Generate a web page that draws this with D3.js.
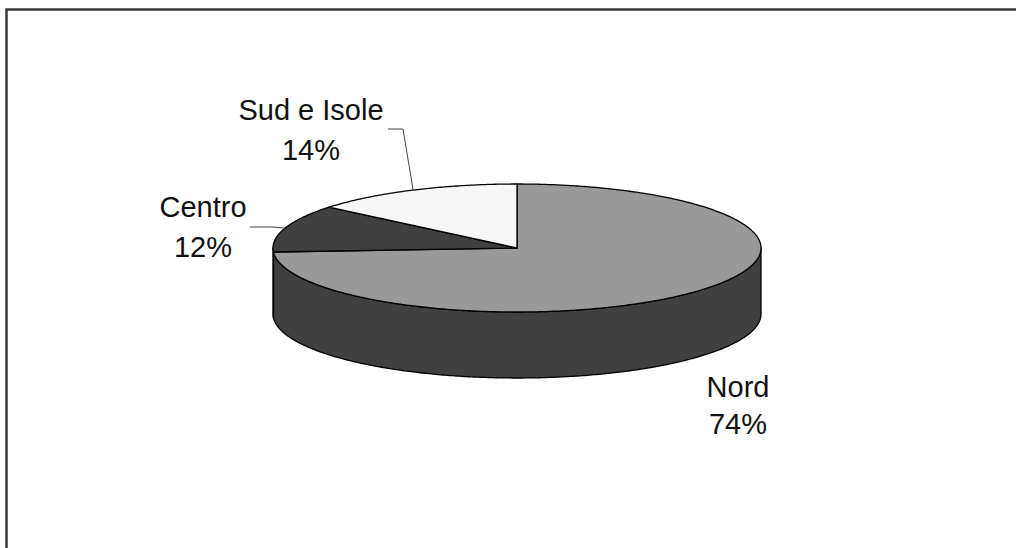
<!DOCTYPE html>
<html>
<head>
<meta charset="utf-8">
<script src="https://cdn.jsdelivr.net/npm/d3@7"></script>
<style>
  html, body { margin: 0; padding: 0; background: #fff; overflow: hidden; }
  svg { display: block; }
  text { font-family: "Liberation Sans", Arial, sans-serif; fill: #111; }
</style>
</head>
<body>
<svg id="chart" width="1016" height="548"></svg>
<script>
const width = 1016;
const height = 548;

// data
const categories = ["Nord", "Centro", "Sud e Isole"];
const values = [74, 12, 14];
const labels = ["74%", "12%", "14%"];

// look
const topColors = ["#999999", "#404040", "#f7f7f7"];
const sideColors = ["#404040", "#2b2b2b", "#bdbdbd"];

// ellipse geometry of the tilted pie
const pie3d = { cx: 517, cy: 248, rx: 244, ry: 64, depth: 66 };

// label placement (text centre x, first baseline y), leader elbow
const labelLayout = [
  { x: 738, y: 397, leader: null },
  { x: 203, y: 217, leader: { x0: 250, y0: 227, x1: 273, y1: 227 } },
  { x: 311, y: 120, leader: { x0: 388, y0: 129, x1: 403, y1: 129 } },
];

const svg = d3.select("#chart");

// frame: only the top and left edges fall inside the picture
svg.append("path")
  .attr("d", `M6.5,${height + 10}V9.5H${width + 10}`)
  .attr("fill", "none")
  .attr("stroke", "#3a3a3a")
  .attr("stroke-width", 2.5);

const arcs = d3.pie().sort(null).startAngle(0).endAngle(2 * Math.PI)(values);

// angle measured clockwise from 12 o'clock
function pt(a, dy) {
  return [pie3d.cx + pie3d.rx * Math.sin(a), pie3d.cy - pie3d.ry * Math.cos(a) + (dy || 0)];
}

function arcPoints(a0, a1, dy) {
  const n = Math.max(2, Math.ceil((a1 - a0) / 0.01));
  return d3.range(n + 1).map(i => pt(a0 + (a1 - a0) * i / n, dy));
}

const line = d3.line();

// side walls (only the front half, angles between pi/2 and 3pi/2)
const sides = svg.append("g");
arcs.forEach((d, i) => {
  const a0 = Math.max(d.startAngle, Math.PI / 2);
  const a1 = Math.min(d.endAngle, 3 * Math.PI / 2);
  if (a1 <= a0) return;
  const topEdge = arcPoints(a0, a1, 0);
  const botEdge = arcPoints(a0, a1, pie3d.depth).reverse();
  sides.append("path")
    .attr("d", line(topEdge.concat(botEdge)) + "Z")
    .attr("fill", sideColors[i])
    .attr("stroke", "#000")
    .attr("stroke-width", 1.3)
    .attr("stroke-linejoin", "round");
});

// top faces
const tops = svg.append("g");
arcs.forEach((d, i) => {
  const pts = [[pie3d.cx, pie3d.cy]].concat(arcPoints(d.startAngle, d.endAngle, 0));
  tops.append("path")
    .attr("d", line(pts) + "Z")
    .attr("fill", topColors[i])
    .attr("stroke", "#000")
    .attr("stroke-width", 1.3)
    .attr("stroke-linejoin", "round");
});

// leader lines and labels
const lab = svg.append("g");
arcs.forEach((d, i) => {
  const L = labelLayout[i];
  if (L.leader) {
    const mid = (d.startAngle + d.endAngle) / 2;
    const end = pt(mid, 0);
    lab.append("path")
      .attr("d", line([[L.leader.x0, L.leader.y0], [L.leader.x1, L.leader.y1], end]))
      .attr("fill", "none")
      .attr("stroke", "#444")
      .attr("stroke-width", 1);
  }
  const t = lab.append("text")
    .attr("x", L.x).attr("y", L.y)
    .attr("text-anchor", "middle")
    .attr("font-size", 29);
  t.append("tspan").attr("x", L.x).text(categories[i]);
  t.append("tspan").attr("x", L.x).attr("dy", i === 0 ? 37 : 40).text(labels[i]);
});
</script>
</body>
</html>
